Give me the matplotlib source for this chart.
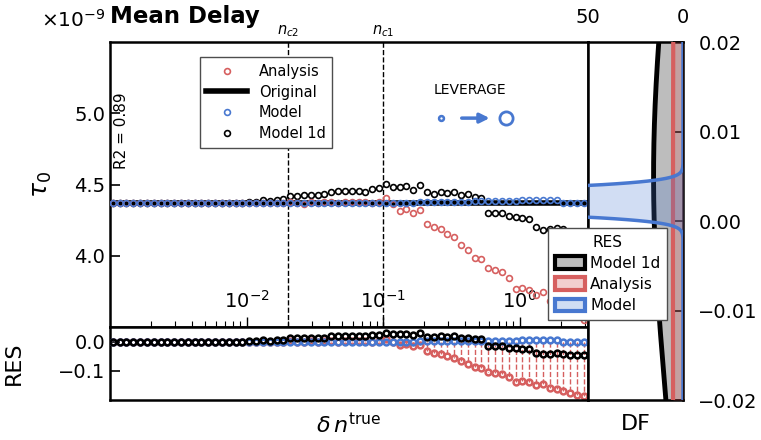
import numpy as np
import matplotlib.pyplot as plt
from matplotlib.patches import Patch
from matplotlib.lines import Line2D
import matplotlib.transforms as mtransforms

plt.rcParams['font.family'] = ['DejaVu Sans']
plt.rcParams['mathtext.fontset'] = 'dejavusans'

# mean delay tau_0, in units of 1e-9
n_true = np.logspace(-2.98, 0.47, 70)
tau_original = 4.37

tau_model_1d = [
    4.37, 4.37, 4.37, 4.37, 4.37, 4.37, 4.37, 4.37, 4.37, 4.37,
    4.37, 4.37, 4.37, 4.37, 4.37, 4.37, 4.37, 4.37, 4.37, 4.37,
    4.375, 4.38, 4.39, 4.385, 4.39, 4.40, 4.42, 4.42, 4.425, 4.427,
    4.427, 4.43, 4.45, 4.455, 4.455, 4.457, 4.455, 4.45, 4.47, 4.475,
    4.505, 4.485, 4.48, 4.49, 4.465, 4.50, 4.445, 4.435, 4.448, 4.438,
    4.448, 4.425, 4.43, 4.41, 4.408, 4.297, 4.297, 4.297, 4.28, 4.273,
    4.262, 4.255, 4.205, 4.18, 4.19, 4.198, 4.19, 4.17, 4.17, 4.17,
]
tau_analysis = [
    4.37, 4.37, 4.37, 4.37, 4.37, 4.37, 4.37, 4.37, 4.37, 4.37,
    4.37, 4.37, 4.37, 4.37, 4.37, 4.37, 4.37, 4.37, 4.37, 4.37,
    4.37, 4.37, 4.37, 4.37, 4.37, 4.37, 4.375, 4.37, 4.365, 4.375,
    4.37, 4.38, 4.375, 4.37, 4.38, 4.375, 4.38, 4.375, 4.37, 4.38,
    4.405, 4.36, 4.317, 4.327, 4.303, 4.32, 4.224, 4.205, 4.189, 4.154,
    4.131, 4.077, 4.037, 3.984, 3.977, 3.914, 3.902, 3.883, 3.844, 3.769,
    3.774, 3.762, 3.727, 3.743, 3.68, 3.66, 3.63, 3.60, 3.575, 3.55,
]
tau_model = [
    4.37, 4.37, 4.37, 4.37, 4.37, 4.37, 4.37, 4.37, 4.37, 4.37,
    4.37, 4.37, 4.37, 4.37, 4.37, 4.37, 4.37, 4.37, 4.37, 4.37,
    4.37, 4.37, 4.37, 4.37, 4.37, 4.37, 4.37, 4.37, 4.37, 4.37,
    4.37, 4.37, 4.37, 4.37, 4.37, 4.37, 4.37, 4.37, 4.37, 4.37,
    4.37, 4.37, 4.37, 4.37, 4.37, 4.375, 4.375, 4.375, 4.375, 4.375,
    4.375, 4.375, 4.375, 4.385, 4.385, 4.385, 4.385, 4.385, 4.385, 4.385,
    4.39, 4.39, 4.39, 4.39, 4.39, 4.39, 4.37, 4.37, 4.37, 4.37,
]

n_c1 = 0.1
n_c2 = 0.02
r2 = 0.89

# normal fits of the residual distributions: centre, width, peak height
df_model_1d = (0.005, 0.024, 15.5)
df_analysis = (-0.005, 0.1, 5.3)
df_model = (0.0022, 0.001, 240.0)

red = '#d65f5f'
blue = '#4878d0'

res_model_1d = (np.array(tau_model_1d) - tau_original) / tau_original
res_analysis = (np.array(tau_analysis) - tau_original) / tau_original
res_model = (np.array(tau_model) - tau_original) / tau_original

fig = plt.figure(figsize=(7.61, 4.40), dpi=100)
ax = fig.add_axes([0.1445, 0.2568, 0.6282, 0.6477])
ax_res = fig.add_axes([0.1445, 0.0909, 0.6282, 0.1659], sharex=ax)
ax_df = fig.add_axes([0.7727, 0.0909, 0.1248, 0.8136])

# main panel
mk = dict(marker='o', ls='none', ms=4.2, mfc='none', mew=1.2)
ax.plot(n_true, tau_model_1d, mec='black', zorder=2, **mk)
ax.axhline(tau_original, color='black', lw=4, zorder=3)
ax.plot(n_true, tau_analysis, mec=red, zorder=4, **mk)
ax.plot(n_true, tau_model, mec=blue, zorder=5, **mk)

ax.set_xscale('log')
ax.set_xlim(1e-3, 10 ** 0.5)
ax.set_xticks([1e-2, 1e-1, 1e0])
ax.set_ylim(3.5, 5.5)
ax.set_yticks([4.0, 4.5, 5.0])
ax.tick_params(axis='y', direction='in', length=7, width=1.2, labelsize=14)
ax.tick_params(axis='x', which='major', direction='inout', length=14, width=1.0,
               labelsize=14, pad=-34)
ax.tick_params(axis='x', which='minor', direction='inout', length=8, width=0.8)
for s in ax.spines.values():
    s.set_linewidth(1.8)

for xc, lab in [(n_c2, r'$n_{c2}$'), (n_c1, r'$n_{c1}$')]:
    ax.axvline(xc, color='black', ls='--', lw=1, zorder=1)
    ax.text(xc, 1.012, lab, transform=mtransforms.blended_transform_factory(ax.transData, ax.transAxes),
            ha='center', va='bottom', fontsize=10.5)

ax.set_ylabel(r'$\tau_0$', fontsize=18)
ax.yaxis.set_label_coords(-0.118, 0.5)
ax.set_title('Mean Delay', loc='left', fontweight='bold', fontsize=16.5, pad=14)
fig.text(105 / 761, 1 - 20 / 440, r'$\times10^{-9}$', ha='right', va='center', fontsize=14.5)
ax.text(0.024, 0.69, f'R2 = {r2:.2f}', rotation=90,
        transform=ax.transAxes, ha='center', va='center', fontsize=11)

# leverage key
ax.plot([0.6925], [0.733], 'o', transform=ax.transAxes, ms=3.5, mfc='none', mec=blue, mew=1.8)
ax.plot([0.828], [0.733], 'o', transform=ax.transAxes, ms=9.5, mfc='none', mec=blue, mew=2)
ax.annotate('', xy=(0.800, 0.733), xytext=(0.730, 0.733), xycoords='axes fraction',
            arrowprops=dict(arrowstyle='-|>', color=blue, lw=2.5, mutation_scale=14))
ax.text(0.753, 0.832, 'LEVERAGE', transform=ax.transAxes, ha='center', va='center', fontsize=10)

handles = [
    Line2D([], [], color=red, **mk),
    Line2D([], [], color='black', lw=4),
    Line2D([], [], mec=blue, **mk),
    Line2D([], [], mec='black', **mk),
]
leg = ax.legend(handles, ['Analysis', 'Original', 'Model', 'Model 1d'], loc='upper left',
                bbox_to_anchor=(0.188, 0.947), fontsize=10.5, fancybox=False, edgecolor='0.3',
                handlelength=2.8, labelspacing=0.4, borderpad=0.45, framealpha=1,
                borderaxespad=0)
leg.get_frame().set_linewidth(1.0)

# residual panel
rk = dict(marker='o', ls='none', ms=4.2, mfc='none', mew=1.8)
ax_res.vlines(n_true, 0, res_analysis, colors=red, linestyles='--', lw=1, zorder=1)
ax_res.plot(n_true, res_analysis, mec=red, zorder=2, **rk)
ax_res.plot(n_true, res_model, mec=blue, zorder=3, **rk)
ax_res.plot(n_true, res_model_1d, mec='black', zorder=4, **rk)
ax_res.set_ylim(-0.2, 0.05)
ax_res.set_yticks([-0.1, 0.0])
ax_res.tick_params(axis='y', direction='in', length=7, width=1.2, labelsize=14)
ax_res.tick_params(axis='x', which='both', bottom=False, labelbottom=False)
ax_res.set_ylabel('RES', fontsize=16)
ax_res.yaxis.set_label_coords(-0.18, 0.5)
ax_res.set_xlabel(r'$\delta\, n^{\mathrm{true}}$', fontsize=16, labelpad=9)
for s in ax_res.spines.values():
    s.set_linewidth(1.8)

# distribution panel
y = np.linspace(-0.02, 0.02, 400)


def density(params):
    c, w, peak = params
    return peak * np.exp(-0.5 * ((y - c) / w) ** 2)


d1 = density(df_model_1d)
ax_df.fill_betweenx(y, 0, d1, color='#bdbdbd', zorder=1)
ax_df.plot(d1, y, color='black', lw=3.5, zorder=2)
d2 = density(df_analysis)
ax_df.fill_betweenx(y, 0, d2, color=red, alpha=0.3, lw=0, zorder=3)
ax_df.plot(d2, y, color=red, lw=3, zorder=4)
d3 = density(df_model)
ax_df.fill_betweenx(y, 0, d3, color=blue, alpha=0.25, lw=0, zorder=5)
ax_df.plot(d3, y, color=blue, lw=2.5, zorder=6)

ax_df.set_xlim(50, 0)
ax_df.set_ylim(-0.02, 0.02)
ax_df.set_xticks([50, 0])
ax_df.xaxis.tick_top()
ax_df.tick_params(axis='x', direction='in', length=0, labelsize=14, pad=11)
ax_df.yaxis.tick_right()
ax_df.set_yticks([-0.02, -0.01, 0.0, 0.01, 0.02])
ax_df.tick_params(axis='y', direction='in', length=7, width=1.2, labelsize=14, pad=11)
ax_df.set_xlabel('DF', fontsize=16, labelpad=10)
ax_df.xaxis.set_label_position('bottom')
for s in ax_df.spines.values():
    s.set_linewidth(1.8)

res_handles = [
    Patch(facecolor='#bdbdbd', edgecolor='black', lw=3),
    Patch(facecolor=(0.84, 0.37, 0.37, 0.3), edgecolor=red, lw=3),
    Patch(facecolor=(0.28, 0.47, 0.82, 0.25), edgecolor=blue, lw=3),
]
leg2 = fig.legend(res_handles, ['Model 1d', 'Analysis', 'Model'], title='RES',
                  loc='upper left', bbox_to_anchor=(548 / 761, 1 - 228 / 440),
                  fontsize=11, title_fontsize=11, fancybox=False, edgecolor='0.3',
                  handlelength=2.0, handleheight=0.9, labelspacing=0.4, borderpad=0.45,
                  framealpha=1, handletextpad=0.3, borderaxespad=0)
leg2.set_zorder(10)

fig.savefig('out.png', dpi=100)
